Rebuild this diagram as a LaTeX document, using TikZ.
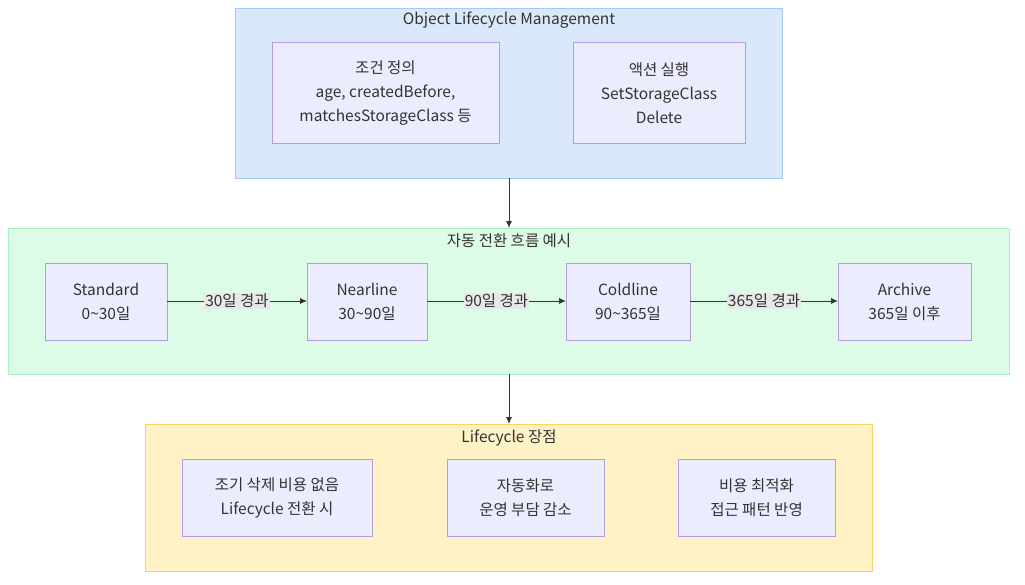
\documentclass[tikz,border=0pt]{standalone}
\usepackage{fontspec}
\setmainfont{Liberation Sans}
\newfontfamily\kr{Noto Sans CJK KR}
\usetikzlibrary{arrows.meta}
\definecolor{bluefill}{HTML}{DAE8FC}
\definecolor{blueline}{HTML}{A6C8F5}
\definecolor{greenfill}{HTML}{DCFCE7}
\definecolor{greenline}{HTML}{A7F3C0}
\definecolor{yelfill}{HTML}{FEF2C6}
\definecolor{yelline}{HTML}{F9D65A}
\definecolor{nodefill}{HTML}{ECECFF}
\definecolor{nodeline}{HTML}{B49CE0}
\definecolor{txt}{HTML}{333333}
\definecolor{lblbg}{HTML}{E8E8E8}
\tikzset{
  cluster/.style={draw=#1line, fill=#1fill, line width=0.8pt},
  box/.style={draw=nodeline, fill=nodefill, line width=0.9pt},
  ttl/.style={text=txt, font=\fontsize{15.5}{18}\selectfont\kr},
  lbl/.style={text=txt, font=\fontsize{15.5}{24}\selectfont\kr, align=center},
  elbl/.style={fill=lblbg, text=txt, font=\fontsize{15.5}{18}\selectfont\kr, inner sep=1pt},
  conn/.style={draw=txt, line width=0.9pt, -{Latex[length=7pt,width=6pt]}},
}
\begin{document}
\begin{tikzpicture}[x=1pt,y=-1pt]
\useasboundingbox (0,0) rectangle (1025,584);
% clusters
\draw[cluster=blue] (235,8) rectangle (782,178);
\node[ttl] (t1) at (509,20) {Object Lifecycle Management};
\draw[cluster=green] (8,228) rectangle (1009,374);
\node[ttl] (t2) at (509,241) {자동 전환 흐름 예시};
\draw[cluster=yel] (145,424) rectangle (872,571);
\node[ttl] (t3) at (509,438) {Lifecycle 장점};
\coordinate (c1b) at (509,178);
\coordinate (c2t) at (509,228);
\coordinate (c2b) at (509,374);
\coordinate (c3t) at (509,424);
% top nodes
\draw[box] (272,42) rectangle (499,143);
\node[lbl] (cond) at (385.5,93) {조건 정의\\age, createdBefore,\\matchesStorageClass 등};
\draw[box] (573,42) rectangle (745,143);
\node[lbl] (act) at (659,93) {액션 실행\\SetStorageClass\\Delete};
% middle nodes
\draw[box] (45,263) rectangle (167,340);
\node[lbl] (std) at (106,302) {Standard\\0\textasciitilde 30일};
\draw[box] (307,263) rectangle (427,340);
\node[lbl] (near) at (367,302) {Nearline\\30\textasciitilde 90일};
\draw[box] (566,263) rectangle (690,340);
\node[lbl] (cold) at (628,302) {Coldline\\90\textasciitilde 365일};
\draw[box] (838,263) rectangle (971,340);
\node[lbl] (arch) at (904.5,302) {Archive\\365일 이후};
\coordinate (stdR) at (167,301);
\coordinate (nearL) at (307,301);
\coordinate (nearR) at (427,301);
\coordinate (coldL) at (566,301);
\coordinate (coldR) at (690,301);
\coordinate (archL) at (838,301);
\draw[conn] (stdR) -- node[elbl] (e1) {30일 경과} (nearL);
\draw[conn] (nearR) -- node[elbl] (e2) {90일 경과} (coldL);
\draw[conn] (coldR) -- node[elbl] (e3) {365일 경과} (archL);
% bottom nodes
\draw[box] (182,459) rectangle (372,536);
\node[lbl] (b1) at (277,497.5) {조기 삭제 비용 없음\\Lifecycle 전환 시};
\draw[box] (447,459) rectangle (604,536);
\node[lbl] (b2) at (525.5,497.5) {자동화로\\운영 부담 감소};
\draw[box] (678,459) rectangle (835,536);
\node[lbl] (b3) at (756.5,497.5) {비용 최적화\\접근 패턴 반영};
% cluster arrows
\draw[conn] (c1b) -- (c2t);
\draw[conn] (c2b) -- (c3t);
\end{tikzpicture}
\end{document}
